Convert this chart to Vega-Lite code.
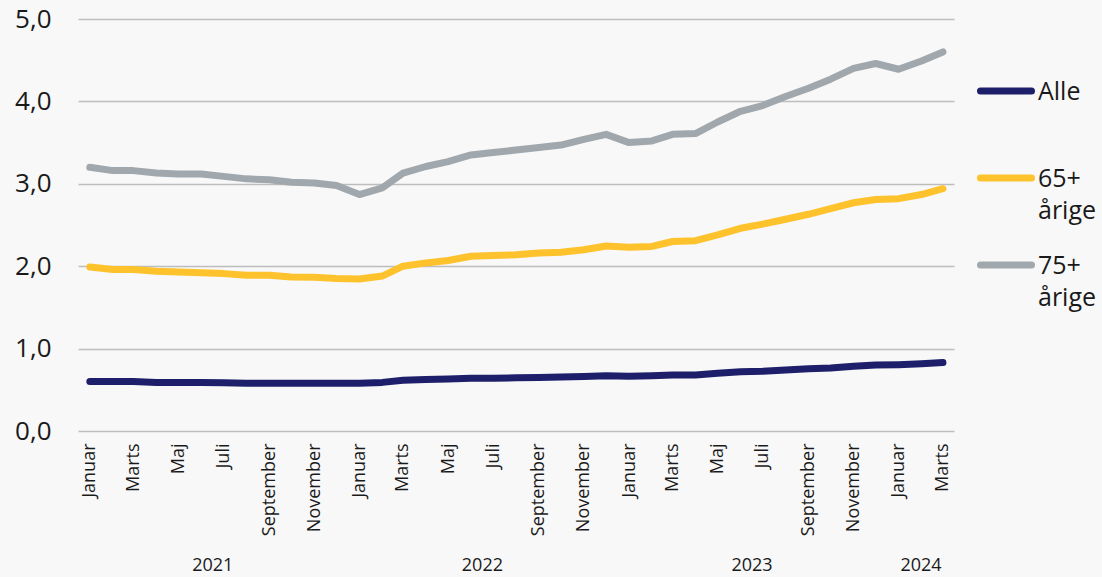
{
  "$schema": "https://vega.github.io/schema/vega-lite/v6.json",
  "autosize": {"type": "none"},
  "width": 876,
  "height": 412,
  "padding": {"left": 78, "top": 19, "right": 148, "bottom": 146},
  "background": "#f8f8f8",
  "config": {
    "view": {"stroke": null},
    "font": "Open Sans",
    "axis": {"labelFont": "Open Sans", "labelColor": "#1a1a1a", "gridColor": "#bdbdbd", "gridWidth": 1.3}
  },
  "data": {
    "values": [
      {"date": "2021-01-01", "Alle": 0.60, "65+ årige": 1.99, "75+ årige": 3.20},
      {"date": "2021-02-01", "Alle": 0.60, "65+ årige": 1.96, "75+ årige": 3.16},
      {"date": "2021-03-01", "Alle": 0.60, "65+ årige": 1.96, "75+ årige": 3.16},
      {"date": "2021-04-01", "Alle": 0.59, "65+ årige": 1.94, "75+ årige": 3.13},
      {"date": "2021-05-01", "Alle": 0.59, "65+ årige": 1.93, "75+ årige": 3.12},
      {"date": "2021-06-01", "Alle": 0.59, "65+ årige": 1.92, "75+ årige": 3.12},
      {"date": "2021-07-01", "Alle": 0.585, "65+ årige": 1.91, "75+ årige": 3.09},
      {"date": "2021-08-01", "Alle": 0.58, "65+ årige": 1.89, "75+ årige": 3.06},
      {"date": "2021-09-01", "Alle": 0.58, "65+ årige": 1.89, "75+ årige": 3.05},
      {"date": "2021-10-01", "Alle": 0.58, "65+ årige": 1.87, "75+ årige": 3.02},
      {"date": "2021-11-01", "Alle": 0.58, "65+ årige": 1.865, "75+ årige": 3.01},
      {"date": "2021-12-01", "Alle": 0.58, "65+ årige": 1.85, "75+ årige": 2.98},
      {"date": "2022-01-01", "Alle": 0.58, "65+ årige": 1.845, "75+ årige": 2.87},
      {"date": "2022-02-01", "Alle": 0.59, "65+ årige": 1.88, "75+ årige": 2.95},
      {"date": "2022-03-01", "Alle": 0.615, "65+ årige": 2.00, "75+ årige": 3.13},
      {"date": "2022-04-01", "Alle": 0.625, "65+ årige": 2.04, "75+ årige": 3.21},
      {"date": "2022-05-01", "Alle": 0.63, "65+ årige": 2.07, "75+ årige": 3.27},
      {"date": "2022-06-01", "Alle": 0.64, "65+ årige": 2.12, "75+ årige": 3.35},
      {"date": "2022-07-01", "Alle": 0.64, "65+ årige": 2.13, "75+ årige": 3.38},
      {"date": "2022-08-01", "Alle": 0.645, "65+ årige": 2.14, "75+ årige": 3.41},
      {"date": "2022-09-01", "Alle": 0.65, "65+ årige": 2.16, "75+ årige": 3.44},
      {"date": "2022-10-01", "Alle": 0.655, "65+ årige": 2.17, "75+ årige": 3.47},
      {"date": "2022-11-01", "Alle": 0.66, "65+ årige": 2.20, "75+ årige": 3.54},
      {"date": "2022-12-01", "Alle": 0.67, "65+ årige": 2.245, "75+ årige": 3.60},
      {"date": "2023-01-01", "Alle": 0.665, "65+ årige": 2.23, "75+ årige": 3.50},
      {"date": "2023-02-01", "Alle": 0.67, "65+ årige": 2.24, "75+ årige": 3.52},
      {"date": "2023-03-01", "Alle": 0.68, "65+ årige": 2.30, "75+ årige": 3.60},
      {"date": "2023-04-01", "Alle": 0.68, "65+ årige": 2.31, "75+ årige": 3.61},
      {"date": "2023-05-01", "Alle": 0.70, "65+ årige": 2.38, "75+ årige": 3.75},
      {"date": "2023-06-01", "Alle": 0.72, "65+ årige": 2.46, "75+ årige": 3.88},
      {"date": "2023-07-01", "Alle": 0.725, "65+ årige": 2.51, "75+ årige": 3.95},
      {"date": "2023-08-01", "Alle": 0.74, "65+ årige": 2.57, "75+ årige": 4.06},
      {"date": "2023-09-01", "Alle": 0.755, "65+ årige": 2.63, "75+ årige": 4.16},
      {"date": "2023-10-01", "Alle": 0.765, "65+ årige": 2.70, "75+ årige": 4.27},
      {"date": "2023-11-01", "Alle": 0.785, "65+ årige": 2.77, "75+ årige": 4.40},
      {"date": "2023-12-01", "Alle": 0.80, "65+ årige": 2.81, "75+ årige": 4.46},
      {"date": "2024-01-01", "Alle": 0.805, "65+ årige": 2.82, "75+ årige": 4.39},
      {"date": "2024-02-01", "Alle": 0.815, "65+ årige": 2.87, "75+ årige": 4.49},
      {"date": "2024-03-01", "Alle": 0.83, "65+ årige": 2.94, "75+ årige": 4.60}
    ]
  },
  "layer": [
    {
      "transform": [{"fold": ["Alle", "65+ årige", "75+ årige"], "as": ["serie", "value"]}],
      "mark": {"type": "line", "strokeWidth": 7, "strokeCap": "round", "strokeJoin": "round"},
      "encoding": {
        "x": {
          "field": "date", "type": "temporal",
          "scale": {"type": "utc", "domain": [{"year": 2020, "month": 12, "date": 16, "utc": true}, {"year": 2024, "month": 3, "date": 16, "utc": true}]},
          "axis": {
            "title": null, "grid": false, "domain": false, "ticks": false,
            "tickCount": {"interval": "month", "step": 2},
            "labelExpr": "['Januar','Februar','Marts','April','Maj','Juni','Juli','August','September','Oktober','November','December'][utcmonth(datum.value)]",
            "labelAngle": 270, "labelAlign": "right", "labelBaseline": "middle",
            "labelFontSize": 18, "labelPadding": 12, "labelOverlap": false, "labelFlush": false
          }
        },
        "y": {
          "field": "value", "type": "quantitative",
          "scale": {"domain": [0, 5], "nice": false, "zero": true},
          "axis": {
            "title": null, "domain": false, "ticks": false, "grid": true,
            "values": [0, 1, 2, 3, 4, 5],
            "labelExpr": "replace(format(datum.value, '.1f'), '.', ',')",
            "labelFontSize": 26, "labelPadding": 27
          }
        },
        "color": {
          "field": "serie", "type": "nominal",
          "scale": {"domain": ["Alle", "65+ årige", "75+ årige"], "range": ["#1e1f6a", "#fec22d", "#a0a8ae"]},
          "legend": {
            "title": null, "orient": "none", "legendX": 899, "legendY": 43,
            "symbolType": "stroke", "symbolSize": 2600, "symbolStrokeWidth": 7,
            "labelFont": "Open Sans", "labelFontSize": 25, "labelColor": "#1a1a1a",
            "labelExpr": "split(datum.label, ' ')",
            "labelBaseline": "alphabetic", "labelOffset": 3, "labelLimit": 200,
            "rowPadding": 12, "gridAlign": "all", "padding": 0,
            "encode": {
              "symbols": {"update": {"strokeCap": {"value": "round"}}},
              "labels": {"update": {"dy": {"value": 9}, "lineHeight": {"value": 32}}}
            }
          }
        }
      }
    },
    {
      "transform": [
        {"calculate": "utcyear(toDate(datum.date))", "as": "year"},
        {"aggregate": [{"op": "mean", "field": "date", "as": "mid"}], "groupby": ["year"]}
      ],
      "mark": {"type": "text", "fontSize": 18, "font": "Open Sans", "color": "#1a1a1a", "baseline": "alphabetic", "align": "center"},
      "encoding": {
        "x": {"field": "mid", "type": "temporal"},
        "y": {"datum": -1.695, "type": "quantitative"},
        "text": {"field": "year", "type": "nominal"}
      }
    }
  ]
}
